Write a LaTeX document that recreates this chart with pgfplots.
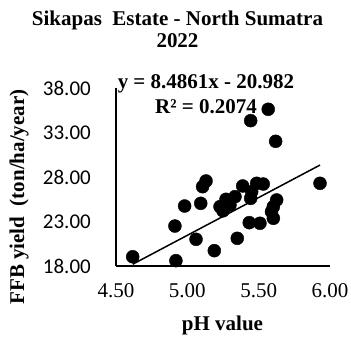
\documentclass[border=0pt]{standalone}
\usepackage{pgfplots}
\pgfplotsset{compat=1.18}
\usepackage{fontspec}
\setmainfont{Liberation Serif}
\newfontfamily\carlito{Carlito}
\newcommand\chartsize{\fontsize{21}{25}\selectfont}

\begin{document}
\begin{tikzpicture}
\begin{axis}[
  at={(0,0)}, anchor=south west,
  scale only axis, width=214pt, height=178pt,
  xmin=4.5, xmax=6.0, ymin=18, ymax=38,
  axis x line*=bottom, axis y line*=left,
  axis line style={line width=1.5pt, -},
  major tick length=0pt,
  xtick={4.5,5,5.5,6},
  ytick={18,23,28,33,38},
  xticklabel={\pgfmathprintnumber[fixed,fixed zerofill,precision=2,assume math mode=true]{\tick}},
  yticklabel={\pgfmathprintnumber[fixed,fixed zerofill,precision=2,assume math mode=true]{\tick}},
  xticklabel style={font=\chartsize, anchor=north, inner sep=0pt, yshift=-17pt},
  yticklabel style={font=\carlito\chartsize, anchor=east, inner sep=0pt, xshift=-25pt},
  clip=false,
]
% yield against pH, one point per block
\addplot[only marks, mark=*, mark size=6.5pt, mark options={fill=black, draw=black}] coordinates {
  (5.567,35.61) (5.444,34.33) (5.619,32.01) (5.930,27.29)
  (5.131,27.55) (5.107,26.91) (5.388,26.99) (5.486,27.29) (5.532,27.21)
  (4.981,24.74) (5.094,25.04) (5.229,24.67) (5.271,25.49) (5.334,25.79)
  (5.299,24.85) (5.250,24.20) (5.444,25.60) (5.451,26.35) (5.626,25.42)
  (5.603,24.67) (5.590,24.10) (5.603,23.36) (5.434,22.87) (5.509,22.80)
  (4.913,22.49) (5.061,21.00) (5.350,21.11) (5.189,19.72) (4.617,19.04)
  (4.920,18.60)
};
% linear trendline y = 8.4861x - 20.982
\addplot[black, line width=1.5pt] coordinates {(4.617,18.198) (5.930,29.341)};
\end{axis}

\node[font=\bfseries\chartsize, align=center] at (61.5pt,246pt) {Sikapas\ \ Estate - North Sumatra};
\node[font=\bfseries\chartsize] at (61.5pt,225pt) {2022};
\node[font=\bfseries\chartsize] at (90pt,182.5pt) {y = 8.4861x - 20.982};
\node[font=\bfseries\chartsize] at (90pt,159pt) {R² = 0.2074};
\node[font=\bfseries\chartsize] at (106.5pt,-59pt) {pH value};
\node[font=\bfseries\chartsize, rotate=90] at (-97pt,69pt) {FFB yield\ \ (ton/ha/year)};

\path[use as bounding box] (-116pt,-73pt) rectangle (235pt,266pt);
\end{tikzpicture}
\end{document}
